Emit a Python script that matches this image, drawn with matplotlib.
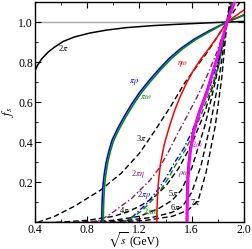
import matplotlib

matplotlib.use("Agg")
import matplotlib.pyplot as plt
from matplotlib.ticker import MultipleLocator

plt.rcParams["font.family"] = ["Liberation Serif", "DejaVu Serif"]
plt.rcParams["mathtext.fontset"] = "stix"

# curves: (sqrt(s) in GeV, f_s)
x_2pi = [0.40, 0.42, 0.45, 0.50, 0.55, 0.615, 0.70, 0.82, 0.95, 1.10, 1.30, 1.50, 1.70, 1.87, 2.00]
y_2pi = [0.758, 0.785, 0.815, 0.85, 0.875, 0.903, 0.925, 0.945, 0.96, 0.972, 0.982, 0.989, 0.995, 1.0, 1.003]

x_pirho = [0.911, 0.912, 0.915, 0.92, 0.93, 0.945, 0.965, 0.99, 1.03, 1.08, 1.14, 1.20, 1.27,
           1.35, 1.43, 1.52, 1.62, 1.73, 1.87, 2.00]
y_pirho = [0.0, 0.06, 0.12, 0.18, 0.24, 0.30, 0.355, 0.41, 0.465, 0.525, 0.59, 0.648, 0.705,
           0.765, 0.82, 0.87, 0.915, 0.955, 1.0, 1.035]

x_piomega = [0.923, 0.924, 0.927, 0.932, 0.942, 0.957, 0.977, 1.00, 1.04, 1.09, 1.15, 1.21, 1.28,
             1.36, 1.44, 1.53, 1.63, 1.74, 1.87, 2.00]
y_piomega = [0.0, 0.06, 0.12, 0.18, 0.24, 0.30, 0.355, 0.405, 0.46, 0.52, 0.585, 0.643, 0.70,
             0.76, 0.815, 0.866, 0.912, 0.953, 1.0, 1.035]

x_etaomega = [1.333, 1.334, 1.338, 1.345, 1.36, 1.39, 1.43, 1.47, 1.51, 1.56, 1.61, 1.67, 1.74,
              1.80, 1.87, 2.00]
y_etaomega = [0.0, 0.06, 0.13, 0.20, 0.29, 0.39, 0.48, 0.56, 0.625, 0.695, 0.755, 0.815, 0.875,
              0.93, 1.0, 1.06]

x_2omega = [1.566, 1.567, 1.569, 1.573, 1.580, 1.592, 1.615, 1.66, 1.716, 1.792, 1.87, 1.93]
y_2omega = [0.0, 0.08, 0.15, 0.22, 0.29, 0.36, 0.45, 0.55, 0.648, 0.812, 1.0, 1.10]

x_rhoomega = [0.40, 1.558, 1.559, 1.561, 1.565, 1.572, 1.584, 1.607, 1.652, 1.708, 1.786, 1.87, 1.93]
y_rhoomega = [0.0, 0.0, 0.08, 0.15, 0.22, 0.29, 0.36, 0.45, 0.55, 0.648, 0.812, 1.0, 1.10]

x_3pi = [0.42, 0.55, 0.70, 0.90, 1.06, 1.20, 1.31, 1.44, 1.55, 1.72, 1.87, 2.00]
y_3pi = [0.0, 0.03, 0.08, 0.16, 0.245, 0.345, 0.45, 0.58, 0.70, 0.85, 1.0, 1.13]

x_4pi = [0.56, 0.80, 1.00, 1.10, 1.20, 1.30, 1.40, 1.50, 1.60, 1.70, 1.78, 1.87, 1.92]
y_4pi = [0.0, 0.01, 0.03, 0.05, 0.08, 0.12, 0.18, 0.27, 0.39, 0.55, 0.72, 1.0, 1.13]

x_5pi = [0.70, 1.00, 1.20, 1.35, 1.45, 1.52, 1.60, 1.70, 1.78, 1.87, 1.91]
y_5pi = [0.0, 0.01, 0.03, 0.07, 0.11, 0.16, 0.27, 0.48, 0.70, 1.0, 1.13]

x_6pi = [0.84, 1.10, 1.30, 1.45, 1.53, 1.60, 1.67, 1.74, 1.81, 1.87, 1.90]
y_6pi = [0.0, 0.01, 0.025, 0.05, 0.08, 0.15, 0.28, 0.48, 0.72, 1.0, 1.12]

x_7pi = [0.98, 1.25, 1.45, 1.57, 1.65, 1.71, 1.78, 1.83, 1.87, 1.89]
y_7pi = [0.0, 0.01, 0.03, 0.06, 0.11, 0.25, 0.48, 0.72, 1.0, 1.10]

x_2pieta = [0.824, 0.90, 0.99, 1.14, 1.28, 1.35, 1.42, 1.49, 1.58, 1.66, 1.73, 1.79, 1.87, 1.92]
y_2pieta = [0.0, 0.01, 0.047, 0.12, 0.21, 0.27, 0.35, 0.44, 0.55, 0.65, 0.75, 0.845, 1.0, 1.10]

x_2pirho = [1.055, 1.10, 1.15, 1.20, 1.25, 1.30, 1.35, 1.41, 1.47, 1.54, 1.60, 1.67, 1.74, 1.80, 1.87, 1.91]
y_2pirho = [0.0, 0.01, 0.03, 0.06, 0.09, 0.13, 0.17, 0.23, 0.30, 0.37, 0.45, 0.56, 0.68, 0.80, 1.0, 1.10]

x_2piomega = [1.063, 1.11, 1.16, 1.21, 1.26, 1.31, 1.36, 1.42, 1.48, 1.55, 1.61, 1.68, 1.75, 1.81, 1.87, 1.91]
y_2piomega = [0.0, 0.01, 0.03, 0.055, 0.085, 0.12, 0.16, 0.22, 0.29, 0.36, 0.44, 0.55, 0.67, 0.79, 1.0, 1.10]

MAROON = "#8b1a5e"
GREEN = "#008a00"
DASH = (0, (4.0, 2.2))
DASHDOT = (0, (4.0, 1.8, 1.0, 1.8))

fig = plt.figure(figsize=(2.52, 2.49), dpi=100)
ax = fig.add_axes([0.139, 0.107, 0.829, 0.885])

ax.axhline(1.0, color="#a8a8a8", lw=1.0, zorder=1)

ax.plot(x_2pi, y_2pi, color="black", lw=1.1)
ax.plot(x_3pi, y_3pi, color="black", lw=1.0, ls=DASH)
ax.plot(x_4pi, y_4pi, color="black", lw=1.0, ls=DASH)
ax.plot(x_5pi, y_5pi, color="black", lw=1.0, ls=DASH)
ax.plot(x_6pi, y_6pi, color="black", lw=1.0, ls=DASH)
ax.plot(x_7pi, y_7pi, color="black", lw=1.0, ls=DASH)
ax.plot(x_2pieta, y_2pieta, color=MAROON, lw=1.0, ls=DASHDOT)
ax.plot(x_2pirho, y_2pirho, color="blue", lw=1.0, ls=DASHDOT)
ax.plot(x_2piomega, y_2piomega, color=GREEN, lw=1.0, ls=DASH)
ax.plot(x_pirho, y_pirho, color="blue", lw=1.2)
ax.plot(x_piomega, y_piomega, color=GREEN, lw=1.2)
ax.plot(x_etaomega, y_etaomega, color="red", lw=1.1)
ax.plot(x_rhoomega, y_rhoomega, color=MAROON, lw=1.0, zorder=3)
ax.plot(x_2omega, y_2omega, color="magenta", lw=2.0, zorder=3)

labels = [
    (0.615, 0.872, r"2$\pi$", "black"),
    (1.159, 0.703, r"$\pi\rho$", "blue"),
    (1.251, 0.625, r"$\pi\omega$", GREEN),
    (1.534, 0.788, r"$\eta\omega$", "red"),
    (1.212, 0.422, r"3$\pi$", "black"),
    (1.189, 0.240, r"2$\pi\eta$", MAROON),
    (1.235, 0.136, r"2$\pi\rho$", "blue"),
    (1.082, 0.062, r"4$\pi$", "black"),
    (1.289, 0.057, r"2$\pi\omega$", GREEN),
    (1.542, 0.240, r"$\rho\omega$", MAROON),
    (1.641, 0.393, r"2$\omega$", "magenta"),
    (1.457, 0.146, r"5$\pi$", "black"),
    (1.473, 0.077, r"6$\pi$", "black"),
    (1.626, 0.101, r"7$\pi$", "black"),
]
for lx, ly, txt, col in labels:
    ax.text(lx, ly, txt, color=col, fontsize=6, ha="center", va="center")

ax.set_xlim(0.4, 2.0)
ax.set_ylim(0.0, 1.1)
ax.xaxis.set_minor_locator(MultipleLocator(0.2))
ax.yaxis.set_minor_locator(MultipleLocator(0.1))
ax.set_yticks([0.2, 0.4, 0.6, 0.8, 1.0])
ax.set_xticks([0.4, 0.8, 1.2, 1.6, 2.0])
ax.tick_params(which="both", direction="in", top=True, right=True, labelsize=8.5, pad=1.5)
ax.tick_params(axis="x", which="both", pad=1)
ax.tick_params(which="major", length=4)
ax.tick_params(which="minor", length=2)
for s in ax.spines.values():
    s.set_linewidth(1.0)

# x label split so the tall root sign sits left of the "1.2" tick label
fig.text(128 / 252, 0.0, r"$\sqrt{s}$", fontsize=8.5, ha="right", va="bottom")
fig.text(129 / 252, 0.004, "(GeV)", fontsize=8.5, ha="left", va="bottom")
fig.text(0.032, 1 - 112 / 249, r"$f_s$", fontsize=9, ha="center", va="center", rotation=90)

fig.savefig("out.png", dpi=100)
